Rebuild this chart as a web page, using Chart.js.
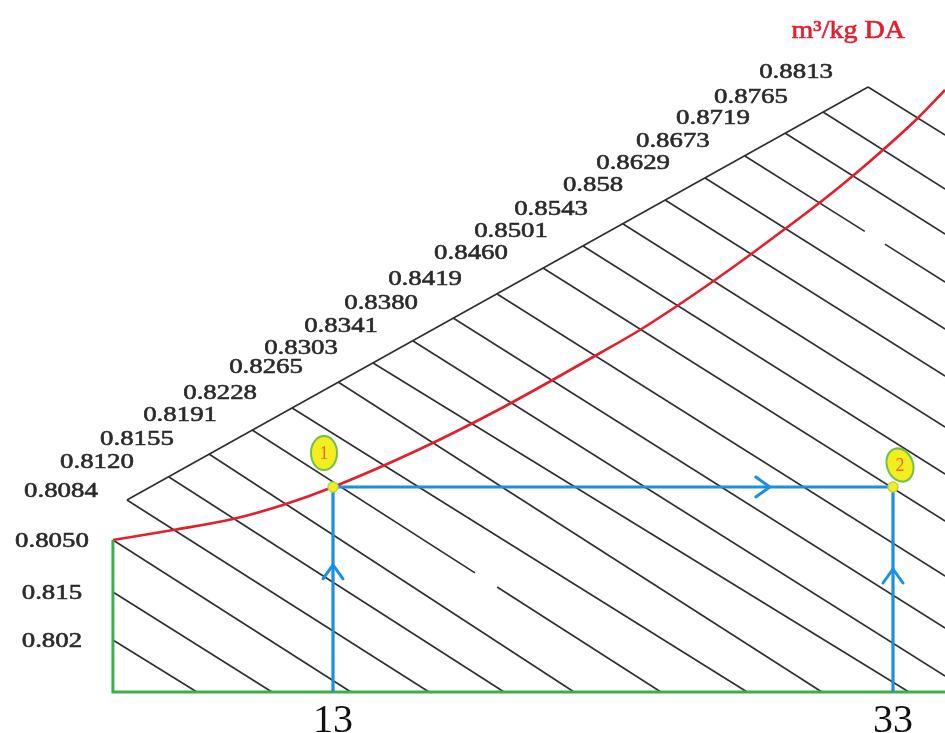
<!DOCTYPE html>
<html>
<head>
<meta charset="utf-8">
<script src="https://cdn.jsdelivr.net/npm/chart.js@4.4.1/dist/chart.umd.min.js"></script>
<style>
  html, body { margin: 0; padding: 0; background: #fff; }
  #chart { display: block; }
</style>
</head>
<body>
<canvas id="chart" width="945" height="733"></canvas>
<script>
// x = dry-bulb temperature (°C), y = humidity ratio (chart units)
const xTickLabels = [13, 33];
const unitLabel = "m³/kg DA";

// saturation curve
const satT = [5.14, 7.29, 9.43, 11.21, 13.0, 16.11, 18.96, 22.54, 23.96, 25.39, 26.54, 27.89, 29.14, 30.32, 31.39, 32.64, 33.89, 34.86];
const satW = [15.2, 16.2, 17.3, 18.7, 20.5, 24.3, 28.3, 33.9, 36.2, 38.8, 41.0, 43.7, 46.3, 48.8, 51.2, 54.2, 57.4, 60.2];

// specific volume lines
const volLabels = ["0.802", "0.815", "0.8050", "0.8084", "0.8120", "0.8155", "0.8191", "0.8228", "0.8265", "0.8303", "0.8341",
  "0.8380", "0.8419", "0.8460", "0.8501", "0.8543", "0.858", "0.8629", "0.8673", "0.8719", "0.8765", "0.8813"];
const volStartT = [5.14, 5.14, 5.14, 5.64, 7.14, 8.57, 10.11, 11.54, 13.18, 14.43, 15.86, 17.29, 18.86, 20.50, 21.93, 23.36, 24.86, 26.29, 27.71, 29.14, 30.50, 32.11];
const volStartW = [5.2, 10.0, 15.2, 19.2, 21.5, 23.8, 26.2, 28.4, 31.0, 32.9, 35.1, 37.4, 39.8, 42.4, 44.6, 46.8, 49.2, 51.4, 53.6, 55.9, 58.0, 60.5];
const volEndT = [8.14, 10.82, 13.64, 16.43, 19.11, 21.61, 24.71, 27.79, 30.46, 33.57, 34.86, 34.86, 34.86, 34.86, 34.86, 34.86, 34.86, 34.86, 34.86, 34.86, 34.86, 34.86];
const volEndW = [0, 0, 0, 0, 0, 0, 0, 0, 0, 0, 1.6, 6.4, 11.6, 17.1, 21.8, 26.5, 31.6, 36.3, 41.0, 45.8, 50.3, 55.7];

// breaks in two of the printed lines
const gapLines = ["0.8191", "0.8673"];
const gapFromT = [18.07, 31.99];
const gapToT = [18.86, 32.71];

// process: state 1 -> state 2
const stateNames = ["1", "2"];
const stateT = [13, 33];
const stateW = [20.5, 20.5];

const GRID = "#2e2e2e";
const RED = "#e31e2d";
const GREEN = "#3fae49";
const BLUE = "#1c8fe0";

function lineDataset(points, color, width, order) {
  return {
    data: points,
    showLine: true,
    borderColor: color,
    borderWidth: width,
    pointRadius: 0,
    fill: false,
    order: order,
  };
}

const datasets = [];

// volume lines, split where the original has a break
volLabels.forEach((lab, i) => {
  const a = { x: volStartT[i], y: volStartW[i] };
  const b = { x: volEndT[i], y: volEndW[i] };
  const g = gapLines.indexOf(lab);
  if (g < 0) {
    datasets.push(lineDataset([a, b], GRID, 1.6, 6));
  } else {
    const at = (t) => ({ x: t, y: a.y + (b.y - a.y) * (t - a.x) / (b.x - a.x) });
    datasets.push(lineDataset([a, at(gapFromT[g])], GRID, 1.6, 6));
    datasets.push(lineDataset([at(gapToT[g]), b], GRID, 1.6, 6));
  }
});

// upper boundary joining the line starts (0.8084 .. 0.8813)
const firstEdge = volLabels.indexOf("0.8084");
const lastEdge = volLabels.length - 1;
datasets.push(lineDataset([
  { x: volStartT[firstEdge], y: volStartW[firstEdge] },
  { x: volStartT[lastEdge], y: volStartW[lastEdge] },
], GRID, 1.6, 6));

// saturation curve
datasets.push({
  ...lineDataset(satT.map((t, i) => ({ x: t, y: satW[i] })), RED, 2.6, 4),
  cubicInterpolationMode: "monotone",
});

// green axes
datasets.push(lineDataset([
  { x: satT[0], y: satW[0] },
  { x: satT[0], y: 0 },
  { x: satT[satT.length - 1], y: 0 },
], GREEN, 3, 3));

// process lines
const processSegs = [
  [{ x: stateT[0], y: 0 }, { x: stateT[0], y: stateW[0] }],
  [{ x: stateT[0], y: stateW[0] }, { x: stateT[1], y: stateW[1] }],
  [{ x: stateT[1], y: 0 }, { x: stateT[1], y: stateW[1] }],
];
processSegs.forEach((seg) => datasets.push(lineDataset(seg, BLUE, 3.2, 2)));

// state points
datasets.push({
  data: stateT.map((t, i) => ({ x: t, y: stateW[i] })),
  showLine: false,
  pointRadius: 5,
  pointBackgroundColor: "#f2ec22",
  pointBorderColor: "#b8d84a",
  pointBorderWidth: 1.5,
  order: 1,
});

// text drawn a little wider and heavier, like the scanned original
function wideText(ctx, txt, px, py, font, color, stretch) {
  ctx.save();
  ctx.font = font;
  ctx.fillStyle = color;
  ctx.strokeStyle = color;
  ctx.lineWidth = 0.6;
  ctx.textAlign = "center";
  ctx.textBaseline = "middle";
  ctx.translate(px, py);
  ctx.scale(stretch, 1);
  ctx.fillText(txt, 0, 0);
  ctx.strokeText(txt, 0, 0);
  ctx.restore();
}

const overlay = {
  id: "overlay",
  afterDatasetsDraw(chart) {
    const ctx = chart.ctx;
    const sx = chart.scales.x;
    const sy = chart.scales.y;

    // arrow heads on the process lines
    const arrowAt = [0.62, 0.78, 0.6];
    ctx.save();
    ctx.strokeStyle = BLUE;
    ctx.lineWidth = 3;
    ctx.lineCap = "round";
    processSegs.forEach((seg, k) => {
      const x0 = sx.getPixelForValue(seg[0].x), y0 = sy.getPixelForValue(seg[0].y);
      const x1 = sx.getPixelForValue(seg[1].x), y1 = sy.getPixelForValue(seg[1].y);
      const len = Math.hypot(x1 - x0, y1 - y0);
      const dx = (x1 - x0) / len, dy = (y1 - y0) / len;
      const tx = x0 + (x1 - x0) * arrowAt[k], ty = y0 + (y1 - y0) * arrowAt[k];
      ctx.beginPath();
      ctx.moveTo(tx - 14 * dx - 10 * dy, ty - 14 * dy + 10 * dx);
      ctx.lineTo(tx, ty);
      ctx.lineTo(tx - 14 * dx + 10 * dy, ty - 14 * dy - 10 * dx);
      ctx.stroke();
    });
    ctx.restore();

    // volume labels
    volLabels.forEach((lab, i) => {
      const px = sx.getPixelForValue(volStartT[i]);
      const py = sy.getPixelForValue(volStartW[i]);
      let ox = -72, oy = -15;
      if (volStartT[i] === satT[0]) { ox = -61; oy = 1; }
      else if (i === firstEdge) { ox = -66; oy = -9; }
      wideText(ctx, lab, px + ox, py + oy, "22px 'Liberation Serif', serif", "#2a2a2a", 1.22);
    });

    // unit label
    wideText(ctx, unitLabel, sx.getPixelForValue(31.4), sy.getPixelForValue(66.1),
      "25px 'Liberation Serif', serif", RED, 1.12);

    // temperature labels under the axis
    xTickLabels.forEach((t) => {
      ctx.save();
      ctx.font = "40px 'Liberation Serif', serif";
      ctx.fillStyle = "#111";
      ctx.textAlign = "center";
      ctx.textBaseline = "alphabetic";
      ctx.fillText(String(t), sx.getPixelForValue(t), sy.getPixelForValue(-4.0));
      ctx.restore();
    });

    // state bubbles
    const bubbleOff = [[-9, -34], [7, -22]];
    stateNames.forEach((name, i) => {
      const cx = sx.getPixelForValue(stateT[i]) + bubbleOff[i][0];
      const cy = sy.getPixelForValue(stateW[i]) + bubbleOff[i][1];
      ctx.save();
      ctx.beginPath();
      ctx.ellipse(cx, cy, 13, 17, i === 1 ? -0.35 : 0, 0, Math.PI * 2);
      ctx.fillStyle = "#f4ee1c";
      ctx.fill();
      ctx.strokeStyle = "#72bf4e";
      ctx.lineWidth = 2;
      ctx.stroke();
      ctx.font = "18px 'Liberation Serif', serif";
      ctx.fillStyle = "#f0662a";
      ctx.textAlign = "center";
      ctx.textBaseline = "middle";
      ctx.fillText(name, cx, cy + 1);
      ctx.restore();
    });
  },
};

new Chart(document.getElementById("chart"), {
  type: "scatter",
  data: { datasets: datasets },
  options: {
    responsive: false,
    devicePixelRatio: 1,
    animation: false,
    layout: { padding: 0, autoPadding: false },
    plugins: { legend: { display: false }, tooltip: { enabled: false } },
    scales: {
      x: { type: "linear", min: 1.107, max: 34.857, display: false },
      y: { type: "linear", min: -4.1, max: 69.2, display: false },
    },
    elements: { line: { borderCapStyle: "butt" } },
  },
  plugins: [overlay],
});
</script>
</body>
</html>
